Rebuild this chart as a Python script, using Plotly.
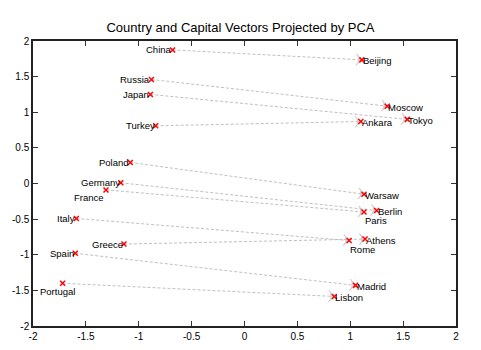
import plotly.graph_objects as go

countries = ["China", "Russia", "Japan", "Turkey", "Poland", "Germany", "France",
             "Italy", "Greece", "Spain", "Portugal"]
country_x = [-0.68, -0.88, -0.89, -0.84, -1.08, -1.17, -1.31, -1.59, -1.14, -1.60, -1.72]
country_y = [1.875, 1.46, 1.25, 0.81, 0.295, 0.01, -0.09, -0.49, -0.85, -0.98, -1.40]

capitals = ["Beijing", "Moscow", "Tokyo", "Ankara", "Warsaw", "Berlin", "Paris",
            "Rome", "Athens", "Madrid", "Lisbon"]
capital_x = [1.11, 1.35, 1.54, 1.10, 1.13, 1.25, 1.13, 0.99, 1.14, 1.05, 0.85]
capital_y = [1.735, 1.085, 0.90, 0.87, -0.15, -0.38, -0.40, -0.80, -0.78, -1.43, -1.585]

tick_vals = [-2, -1.5, -1, -0.5, 0, 0.5, 1, 1.5, 2]
tick_text = ["-2", "-1.5", "-1", "-0.5", "0", "0.5", "1", "1.5", "2"]

# label placement styles (not data)
country_style = {"France": dict(xanchor="right", yanchor="top", xshift=0, yshift=0),
                 "Portugal": dict(xanchor="center", yanchor="top", xshift=-5, yshift=-1)}
capital_style = {"Paris": dict(xanchor="left", yanchor="top", xshift=-1, yshift=-1),
                 "Rome": dict(xanchor="left", yanchor="top", xshift=-1, yshift=-1)}

FONT = "Liberation Sans, Arial, Helvetica, sans-serif"
fig = go.Figure()

# dashed arrows country -> capital
for i in range(len(countries)):
    fig.add_trace(go.Scatter(
        x=[country_x[i], capital_x[i]], y=[country_y[i], capital_y[i]],
        mode="lines+markers",
        line=dict(color="#c0c0c0", width=1, dash="3px,2px"),
        marker=dict(symbol=["circle", "arrow-wide"], size=[0, 8],
                    angleref="previous", color="#c8c8c8",
                    line=dict(color="#b4b4b4", width=0.8)),
        hoverinfo="skip", showlegend=False))

# red x markers
fig.add_trace(go.Scatter(
    x=country_x + capital_x, y=country_y + capital_y, mode="markers",
    marker=dict(symbol="x-thin", size=5, line=dict(color="#ff0000", width=1.5), color="#ff0000"),
    showlegend=False, hoverinfo="skip"))

annotations = []
for name, x, y in zip(countries, country_x, country_y):
    st = country_style.get(name, dict(xanchor="right", yanchor="middle", xshift=1, yshift=0))
    annotations.append(dict(x=x, y=y, text=name, showarrow=False,
                            font=dict(family=FONT, size=9.5, color="black"), **st))
for name, x, y in zip(capitals, capital_x, capital_y):
    st = capital_style.get(name, dict(xanchor="left", yanchor="middle", xshift=-1, yshift=-1))
    annotations.append(dict(x=x, y=y, text=name, showarrow=False,
                            font=dict(family=FONT, size=9.5, color="black"), **st))

axis_common = dict(tickvals=tick_vals, ticktext=tick_text, ticks="inside", ticklen=5,
                   tickwidth=1, tickcolor="#333", showline=True, linecolor="#222",
                   linewidth=1.5, mirror="ticks", showgrid=False, zeroline=False,
                   automargin=False,
                   tickfont=dict(family=FONT, size=10, color="black"))

fig.update_layout(
    width=481, height=350,
    margin=dict(l=33, r=25, t=41, b=24),
    paper_bgcolor="white", plot_bgcolor="white",
    title=dict(text="Country and Capital Vectors Projected by PCA",
               font=dict(family=FONT, size=13, color="black"),
               x=0.5, xanchor="center", y=0.921, yanchor="middle"),
    xaxis=dict(range=[-2, 2], **axis_common),
    yaxis=dict(range=[-2, 2], **axis_common),
    annotations=annotations,
)

fig.write_html("out.html")
